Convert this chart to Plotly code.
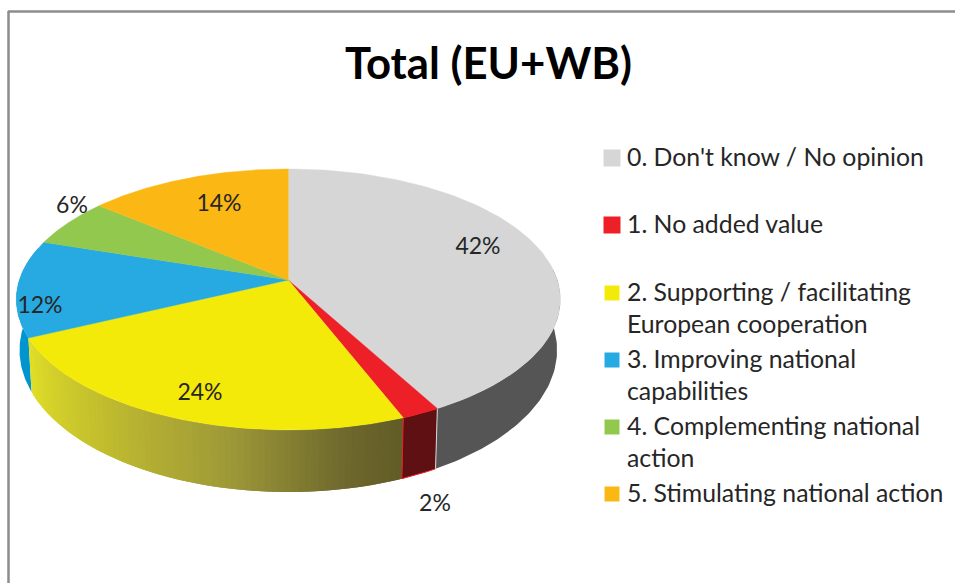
import numpy as np
import plotly.graph_objects as go

# --- data ---
title = "Total (EU+WB)"
categories = ["0. Don't know / No opinion", "1. No added value",
              "2. Supporting / facilitating<br>European cooperation",
              "3. Improving national<br>capabilities",
              "4. Complementing national<br>action",
              "5. Stimulating national action"]
values = [42, 2, 24, 12, 6, 14]
top_colors = ["#D6D6D6", "#EE2027", "#F4EA0A", "#27AAE1", "#92C84E", "#FBB814"]
wall_colors = ["#555555", "#5E1013", None, "#0095CE", "#6E9A34", "#C08A0C"]
yellow_stops = [(0.0, (224, 222, 40)), (0.28, (196, 192, 46)), (0.6, (160, 155, 56)),
                (0.85, (112, 106, 46)), (1.0, (96, 90, 38))]
label_xy = [(478, 248), (435, 505), (200, 394), (40, 307), (72, 207), (219, 205)]

# --- geometry of the tilted disc (screen-space axes) ---
CX, CY, RX, RY, K = 288.3, 280, 269, 127.6, 0.149
BOT_SX, BOT_SY, BOT_DY = 0.988, 1.087, 49
WALL_FROM, WALL_TO = 85, 285   # visible front arc, degrees clockwise from 12 o'clock
FONT = "Lato"
TEXT = "#262626"


def top_edge(deg):
    t = np.radians(deg)
    u, v = np.sin(t), -np.cos(t)
    d = 1 - K * v
    return CX + RX * u / d, CY + RY * v / d


def bottom_edge(deg):
    x, y = top_edge(deg)
    return CX + BOT_SX * (x - CX), CY + BOT_DY + BOT_SY * (y - CY)


def yellow_at(f):
    xs = [s[0] for s in yellow_stops]
    rgb = [np.interp(f, xs, [s[1][i] for s in yellow_stops]) for i in range(3)]
    return "rgb(%d,%d,%d)" % tuple(rgb)


fig = go.Figure()


def poly(xs, ys, color, line=None, width=0):
    fig.add_trace(go.Scatter(x=list(xs), y=list(ys), mode="lines", fill="toself",
                             fillcolor=color, line=dict(color=line or color, width=width),
                             hoverinfo="skip", showlegend=False))


edges = 360 * np.cumsum([0] + values) / sum(values)


def wall(a0, a1, color, line=None, width=0):
    ang = np.linspace(a0, a1, 60)
    tx, ty = zip(*[top_edge(a) for a in ang])
    bx, by = zip(*[bottom_edge(a) for a in ang[::-1]])
    poly(tx + bx, ty + by, color, line, width)


# side walls first
for i in [3, 0, 2, 1]:
    a0, a1 = max(edges[i], WALL_FROM), min(edges[i + 1], WALL_TO)
    if top_colors[i] == "#F4EA0A":
        # gradient: left end of the arc is light, right end is dark; each strip overlaps
        # the next one so that no background shows through the seams
        n = 70
        steps = np.linspace(a0, a1, n + 1)
        for j in range(n):
            wall(steps[max(j - 1, 0)], steps[j + 1], yellow_at(1 - (j + 0.5) / n))
    else:
        wall(a0, a1, wall_colors[i], "#EE2027" if i == 1 else None, 1 if i == 1 else 0)

# light seam between the grey and the red wall
sx0, sy0 = top_edge(edges[1])
sx1, sy1 = bottom_edge(edges[1])
fig.add_trace(go.Scatter(x=[sx0, sx1], y=[sy0, sy1], mode="lines",
                         line=dict(color="#D8D8D8", width=1), hoverinfo="skip", showlegend=False))

# top faces
for i, name in enumerate(categories):
    ang = np.linspace(edges[i], edges[i + 1], 120)
    ex, ey = zip(*[top_edge(a) for a in ang])
    poly((CX,) + ex + (CX,), (CY,) + ey + (CY,), top_colors[i], width=0.4)

# percent labels
fig.add_trace(go.Scatter(x=[p[0] for p in label_xy], y=[p[1] for p in label_xy],
                         mode="text", text=["%d%%" % v for v in values],
                         textposition="middle center",
                         textfont=dict(family=FONT, size=23, color=TEXT),
                         hoverinfo="skip", showlegend=False))

# legend
swatch_y = [158, 225, 293, 360, 427, 494]
swatch_size = [17, 17, 15, 15, 15, 15]
fig.add_trace(go.Scatter(x=[612] * 6, y=swatch_y, mode="markers",
                         marker=dict(symbol="square", size=swatch_size, color=top_colors,
                                     opacity=1, line=dict(width=0)),
                         hoverinfo="skip", showlegend=False))
for name, y in zip(categories, swatch_y):
    for n, part in enumerate(name.split("<br>")):
        fig.add_annotation(x=624.5, y=y - 2 + n * 32, text=part, showarrow=False,
                           xanchor="left", yanchor="middle", xref="x", yref="y",
                           font=dict(family=FONT, size=24.8, color=TEXT))

fig.add_annotation(x=488, y=62, text="<b>%s</b>" % title, showarrow=False, xanchor="center",
                   yanchor="middle", font=dict(family=FONT, size=43.7, color="#000000"))

# chart frame
fig.add_shape(type="line", x0=8.5, x1=8.5, y0=11, y1=583, line=dict(color="#8C8C8C", width=2.5))
fig.add_shape(type="line", x0=8, x1=955, y0=11.5, y1=11.5, line=dict(color="#8C8C8C", width=2.5))

fig.update_layout(width=955, height=583, margin=dict(l=0, r=0, t=0, b=0),
                  paper_bgcolor="#FFFFFF", plot_bgcolor="#FFFFFF", showlegend=False,
                  xaxis=dict(range=[0, 955], visible=False, fixedrange=True),
                  yaxis=dict(range=[583, 0], visible=False, fixedrange=True))
fig.write_html("out.html", config={"displayModeBar": False},
               post_script="document.body.style.margin='0';document.body.style.overflow='hidden';")
